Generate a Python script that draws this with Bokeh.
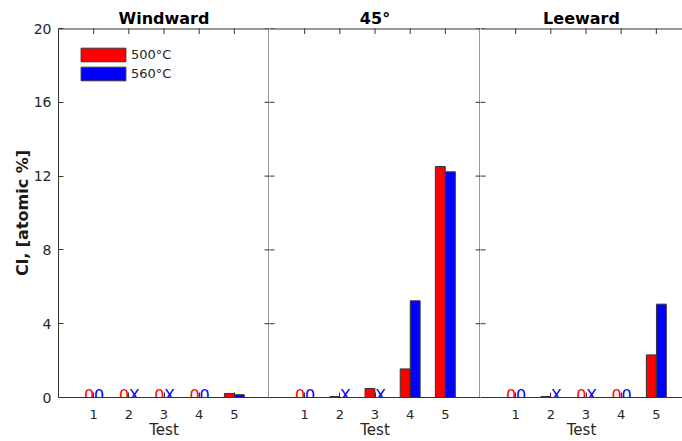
import math
from bokeh.plotting import figure
from bokeh.layouts import row
from bokeh.models import (ColumnDataSource, FixedTicker, Span, Legend, LegendItem, Range1d)
from bokeh.core.properties import value
from bokeh.embed import file_html
from bokeh.resources import INLINE

# Cl content in atomic %, tests 1-5; None = not measured (shown as "X")
panel_titles = ["Windward", "45°", "Leeward"]
tests = [1, 2, 3, 4, 5]
test_labels = ["1", "2", "3", "4", "5"]
windward_500 = [0, 0, 0, 0, 0.22]
windward_560 = [0, None, None, 0, 0.15]
angle45_500 = [0, 0.05, 0.49, 1.55, 12.52]
angle45_560 = [0, None, None, 5.24, 12.23]
leeward_500 = [0, 0.05, 0, 0, 2.31]
leeward_560 = [0, None, None, 0, 5.06]
y_ticks = [0, 4, 8, 12, 16, 20]
series_labels = ["500°C", "560°C"]
series_colors = ["#ff0000", "#0000ff"]

FONT = "DejaVu Sans"
AX = "#333333"
TXT = "#262626"
BAR_W = 0.28
BAR_OFF = 0.143
MARK_LIFT = 0.12     # zero / missing markers sit just above the baseline
PX_PER_UNIT = 211 / 6.0


def make_panel(title, s500, s560, width, left_border, first, last):
    frame_w = width - left_border
    p = figure(width=width, height=441, output_backend="svg", toolbar_location=None,
               x_range=Range1d(0, frame_w / PX_PER_UNIT), y_range=Range1d(0, 20),
               min_border_left=left_border, min_border_right=0,
               min_border_top=28, min_border_bottom=44)
    p.xgrid.visible = False
    p.ygrid.visible = False
    p.outline_line_color = None
    p.background_fill_color = "white"
    p.border_fill_color = "white"

    p.title.text = title
    p.title.align = "center"
    p.title.text_font = FONT
    p.title.text_font_size = "16px"
    p.title.text_font_style = "bold"
    p.title.text_color = "black"
    p.title.standoff = 2

    bars = {0: dict(x=[], top=[]), 1: dict(x=[], top=[])}
    marks = dict(x=[], y=[], text=[], color=[])
    for j, t in enumerate(tests):
        for k, (vals, off) in enumerate([(s500, -BAR_OFF), (s560, BAR_OFF)]):
            v = vals[j]
            if v is None or v == 0:
                marks["x"].append(t + off + 0.01)
                marks["y"].append(MARK_LIFT)
                marks["text"].append("X" if v is None else "0")
                marks["color"].append(series_colors[k])
            else:
                bars[k]["x"].append(t + off)
                bars[k]["top"].append(v)

    renderers = []
    for k in (0, 1):
        r = p.vbar(x="x", top="top", bottom=0, width=BAR_W, source=ColumnDataSource(bars[k]),
                   fill_color=series_colors[k], line_color="#333333", line_width=1)
        renderers.append(r)

    p.text(x="x", y="y", text="text", text_color="color", source=ColumnDataSource(marks),
           text_font=value(FONT), text_font_size=value("16px"), text_align="center",
           text_baseline="alphabetic")

    # bottom axis, ticks pointing inward
    ax = p.xaxis[0]
    ax.ticker = FixedTicker(ticks=tests)
    ax.major_label_overrides = {t: lab for t, lab in zip(tests, test_labels)}
    ax.axis_line_color = AX
    ax.major_tick_line_color = AX
    ax.major_tick_in = 5
    ax.major_tick_out = 0
    ax.minor_tick_line_color = None
    ax.major_label_text_font = FONT
    ax.major_label_text_font_size = "13px"
    ax.major_label_text_color = TXT
    ax.major_label_standoff = 12
    ax.axis_label = "Test"
    ax.axis_label_text_font = FONT
    ax.axis_label_text_font_size = "15px"
    ax.axis_label_text_font_style = "normal"
    ax.axis_label_text_color = TXT
    ax.axis_label_standoff = -1

    if first:
        ay = p.yaxis[0]
        ay.ticker = FixedTicker(ticks=y_ticks)
        ay.axis_line_color = AX
        ay.major_tick_line_color = AX
        ay.major_tick_in = 5
        ay.major_tick_out = 0
        ay.minor_tick_line_color = None
        ay.major_label_text_font = FONT
        ay.major_label_text_font_size = "14px"
        ay.major_label_text_color = TXT
        ay.major_label_standoff = 7
        ay.axis_label = "Cl, [atomic %]"
        ay.axis_label_text_font = FONT
        ay.axis_label_text_font_style = "bold"
        ay.axis_label_text_font_size = "16px"
        ay.axis_label_text_color = "#1a1a1a"
        ay.axis_label_standoff = -1
    else:
        p.yaxis.visible = False
        # inward ticks along the shared left edge
        p.scatter(x=[0] * len(y_ticks), y=y_ticks, marker="dash", size=10,
                  line_color=AX, line_width=1)

    # top frame edge (half of the line falls outside the frame clip) with inward ticks
    p.add_layout(Span(location=20, dimension="width", line_color=AX, line_width=2))
    p.scatter(x=tests, y=[20] * len(tests), marker="dash", angle=math.pi / 2, size=11,
              line_color=AX, line_width=1)

    if not last:
        # right frame edge, shared with the next panel, with inward ticks
        p.add_layout(Span(location=6, dimension="height", line_color=AX, line_width=2))
        p.scatter(x=[6] * len(y_ticks), y=y_ticks, marker="dash", size=10,
                  line_color=AX, line_width=1)
    return p, renderers


p1, rend = make_panel(panel_titles[0], windward_500, windward_560, 269, 58, True, False)
p2, _ = make_panel(panel_titles[1], angle45_500, angle45_560, 211, 0, False, False)
p3, _ = make_panel(panel_titles[2], leeward_500, leeward_560, 202, 0, False, True)

legend = Legend(items=[LegendItem(label=series_labels[k], renderers=[rend[k]]) for k in (0, 1)],
                location=(17, 315), glyph_width=56, glyph_height=17, label_height=17,
                spacing=2, padding=0, margin=0, border_line_color=None,
                background_fill_alpha=0, label_text_font=FONT, label_text_font_size="13px",
                label_text_color=TXT, label_standoff=0)
p1.add_layout(legend)

layout = row(p1, p2, p3, spacing=0)
open("out.html", "w").write(file_html(layout, INLINE))
